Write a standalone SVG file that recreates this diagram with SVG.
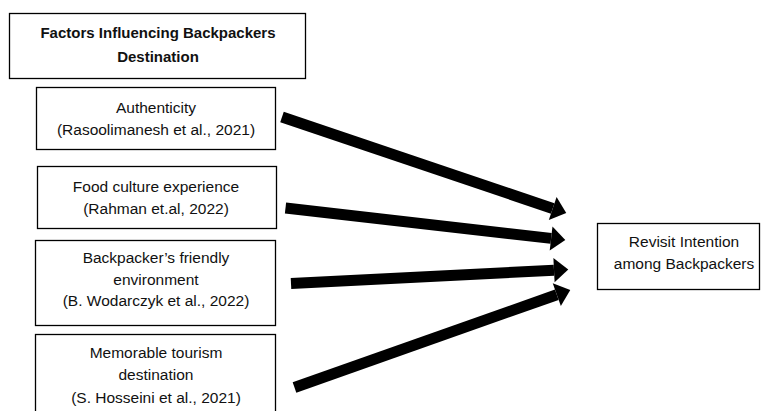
<svg xmlns="http://www.w3.org/2000/svg" width="761" height="411" viewBox="0 0 761 411">
<style>
.box{fill:#fff;stroke:#000;stroke-width:1.3}
.t{font-family:"Liberation Sans",Arial,sans-serif;font-size:15.5px;fill:#111;text-anchor:middle}
.b{font-weight:bold;font-size:15px}
.arr{stroke:#000;stroke-width:11;fill:none;marker-end:url(#head)}
</style>
<defs>
<marker id="head" markerUnits="strokeWidth" markerWidth="1.4" markerHeight="2.3" refX="0" refY="1.1" orient="auto" overflow="visible">
<path d="M0,0 L1.3,1.1 L0,2.2 Z" fill="#000"/>
</marker>
</defs>
<rect width="761" height="411" fill="#fff"/>
<g id="title">
<rect class="box" x="9.5" y="13.5" width="296" height="65"/>
<text class="t b" x="158" y="38">Factors Influencing Backpackers</text>
<text class="t b" x="158" y="62">Destination</text>
</g>
<g id="authenticity">
<rect class="box" x="36.5" y="87.5" width="239" height="62"/>
<text class="t" x="156" y="113">Authenticity</text>
<text class="t" x="156" y="135">(Rasoolimanesh et al., 2021)</text>
</g>
<g id="food">
<rect class="box" x="37.5" y="166.5" width="239" height="62"/>
<text class="t" x="156" y="192">Food culture experience</text>
<text class="t" x="156" y="214">(Rahman et.al, 2022)</text>
</g>
<g id="friendly">
<rect class="box" x="35.5" y="240.5" width="240" height="85"/>
<text class="t" x="156" y="263">Backpacker’s friendly</text>
<text class="t" x="156" y="284.5">environment</text>
<text class="t" x="156" y="306">(B. Wodarczyk et al., 2022)</text>
</g>
<g id="memorable">
<rect class="box" x="35.5" y="334.5" width="240" height="90"/>
<text class="t" x="156" y="358">Memorable tourism</text>
<text class="t" x="156" y="380">destination</text>
<text class="t" x="156" y="402.5">(S. Hosseini et al., 2021)</text>
</g>
<g id="revisit">
<rect class="box" x="597.5" y="223.5" width="162" height="66"/>
<text class="t" x="684" y="247">Revisit Intention</text>
<text class="t" x="684" y="269">among Backpackers</text>
</g>
<g id="connectors">
<line class="arr" x1="282" y1="117" x2="552.7" y2="208.5"/>
<line class="arr" x1="285.5" y1="208" x2="551.1" y2="238.4"/>
<line class="arr" x1="291" y1="283.5" x2="554" y2="270.2"/>
<line class="arr" x1="294.5" y1="387.5" x2="556.8" y2="294.7"/>
</g>
</svg>
